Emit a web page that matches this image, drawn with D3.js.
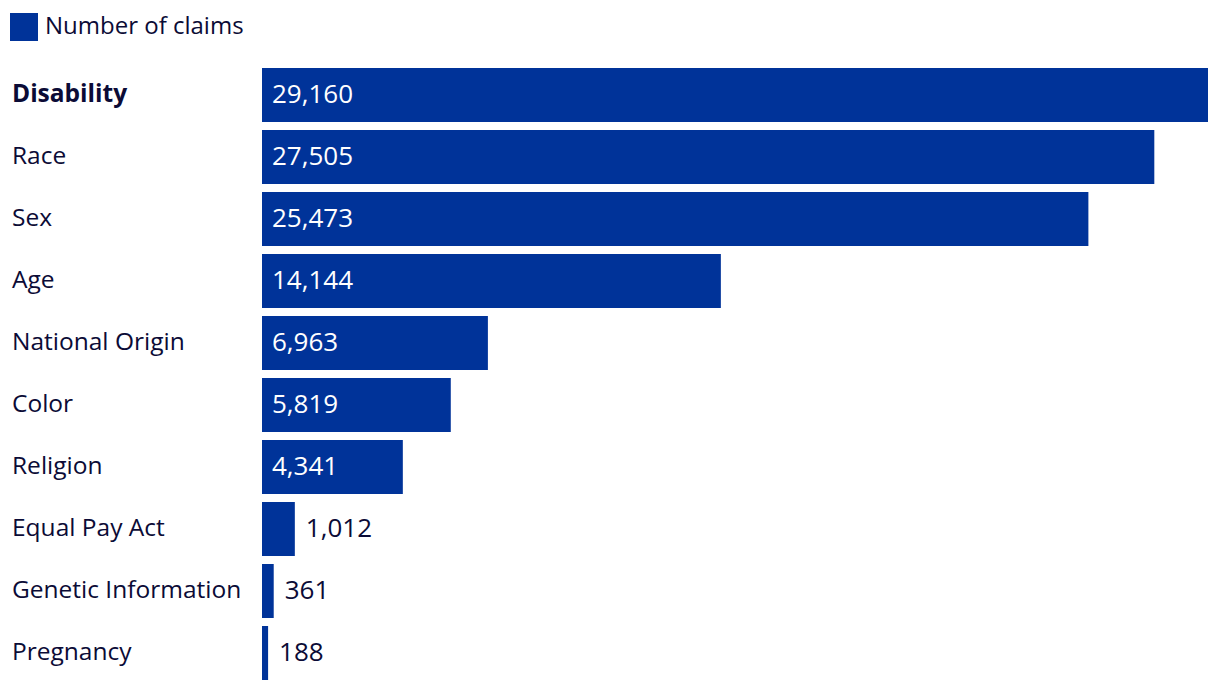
<!DOCTYPE html>
<html><head><meta charset="utf-8">
<script src="https://cdn.jsdelivr.net/npm/d3@7"></script>
<style>body{margin:0;background:#fff;} svg{display:block;} text{font-family:"Open Sans",sans-serif;font-weight:500;}</style>
</head><body>
<svg id="chart" width="1220" height="692"></svg>
<script>
const categories = ["Disability","Race","Sex","Age","National Origin","Color","Religion","Equal Pay Act","Genetic Information","Pregnancy"];
const claims = [29160,27505,25473,14144,6963,5819,4341,1012,361,188];
const seriesName = "Number of claims";

const barColor = "#003399", textColor = "#0b0b36";
const svg = d3.select("#chart");
const data = categories.map((c,i)=>({cat:c, v:claims[i]}));

const x = d3.scaleLinear().domain([0, d3.max(claims)]).range([262, 1208]);
const y = d3.scaleBand().domain(categories).range([68, 68+62*10-8]).paddingInner(8/62).paddingOuter(0);

// legend
svg.append("rect").attr("x",10).attr("y",13).attr("width",28).attr("height",28).attr("fill",barColor);
svg.append("text").attr("x",45).attr("y",26).attr("dy","0.35em").attr("font-size",24).attr("fill",textColor).text(seriesName);

svg.selectAll("rect.bar").data(data).join("rect").attr("class","bar")
  .attr("x", x(0)).attr("y", d=>y(d.cat)).attr("width", d=>x(d.v)-x(0)).attr("height", y.bandwidth())
  .attr("fill", barColor);

svg.selectAll("text.cat").data(data).join("text").attr("class","cat")
  .attr("x",12).attr("y", d=>y(d.cat)+y.bandwidth()/2-1.5).attr("dy","0.35em")
  .attr("font-size",24.5).style("font-weight",(d,i)=>i===0?"bold":"500").attr("fill",textColor).text(d=>d.cat);

const fmt = d3.format(",");
svg.selectAll("text.val").data(data).join("text").attr("class","val")
  .attr("x", d=> (x(d.v)-x(0) > 100) ? x(0)+10 : x(d.v)+11)
  .attr("y", d=>y(d.cat)+y.bandwidth()/2-1.5).attr("dy","0.35em")
  .attr("font-size",26)
  .attr("fill", d=> (x(d.v)-x(0) > 100) ? "#fff" : textColor)
  .text(d=>fmt(d.v));
</script>
</body></html>
